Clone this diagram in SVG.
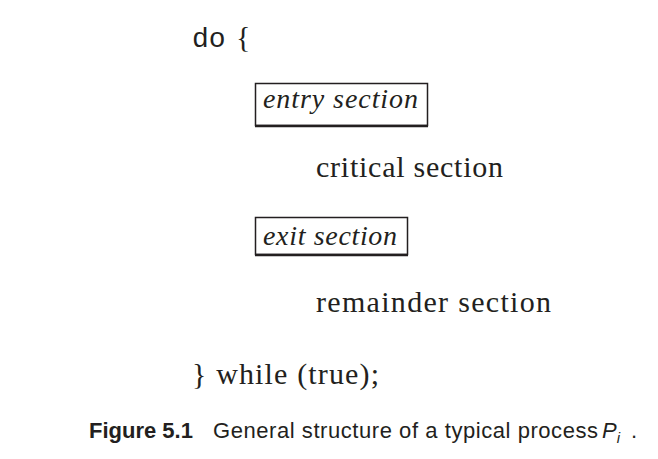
<svg xmlns="http://www.w3.org/2000/svg" width="658" height="459" viewBox="0 0 658 459">
<style>
.serif{font-family:"Liberation Serif","DejaVu Serif",serif;font-size:30px;fill:#231f20}
.it{font-style:italic;font-size:28px}
.mono{font-family:"Liberation Mono","DejaVu Sans Mono",monospace;font-size:28px;fill:#231f20}
.box{fill:none;stroke:#231f20;stroke-width:1.5}
.cap{font-family:"Liberation Sans",Arial,sans-serif;font-size:22px;fill:#231f20}
</style>
<rect width="658" height="459" fill="#fff"/>
<g id="do"><text class="mono" x="192" y="47">do</text><text class="serif" x="236" y="47">{</text></g>
<g id="entry"><rect class="box" x="255.5" y="83.5" width="172" height="42"/><line x1="255" y1="126" x2="428" y2="126" stroke="#231f20" stroke-width="2.5"/><text class="serif it" x="263" y="108" textLength="155" lengthAdjust="spacing">entry section</text></g>
<g id="critical"><text class="serif" x="316" y="177" textLength="187" lengthAdjust="spacing">critical section</text></g>
<g id="exit"><rect class="box" x="255.5" y="217.5" width="152" height="37"/><line x1="255" y1="255" x2="408" y2="255" stroke="#231f20" stroke-width="2.5"/><text class="serif it" x="263" y="245" textLength="134" lengthAdjust="spacing">exit section</text></g>
<g id="remainder"><text class="serif" x="316" y="312" textLength="235" lengthAdjust="spacing">remainder section</text></g>
<g id="while"><text class="serif" x="192" y="384" textLength="187" lengthAdjust="spacing">} while (true);</text></g>
<g id="connectors"></g>
<g id="caption"><text class="cap" x="89" y="438"><tspan font-weight="bold">Figure 5.1</tspan></text><text class="cap" x="213" y="438" textLength="385" lengthAdjust="spacing">General structure of a typical process</text><text class="cap" x="602" y="438"><tspan font-style="italic">P</tspan><tspan font-style="italic" font-size="15" dy="5">i</tspan><tspan dy="-5" x="631">.</tspan></text></g>
</svg>
